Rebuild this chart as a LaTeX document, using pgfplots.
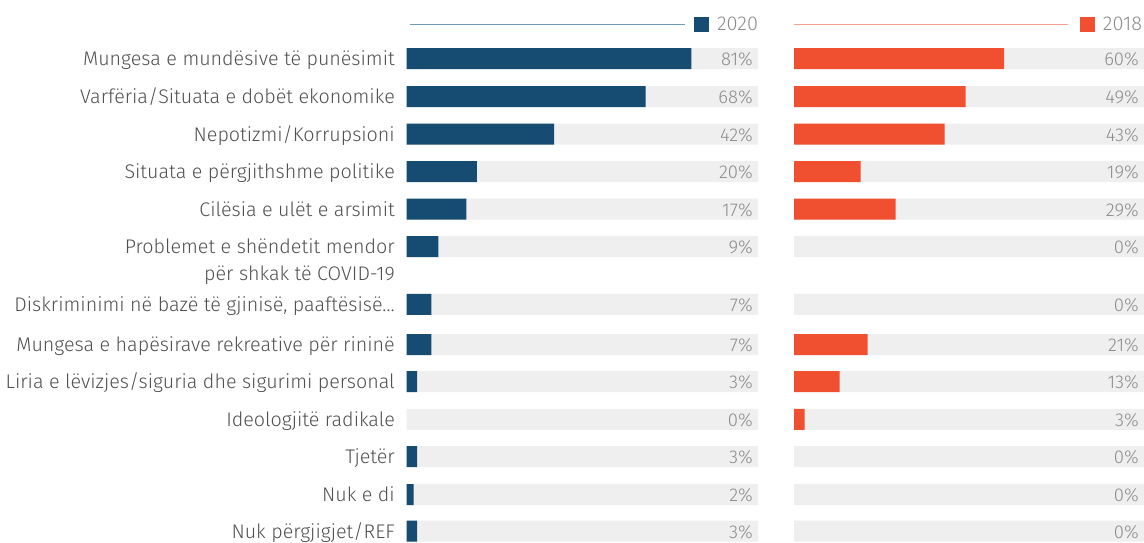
\documentclass[border=0pt]{standalone}
\usepackage{pgfplots}
\usepackage{pgfplotstable}
\pgfplotsset{compat=1.18}
\usepackage{fontspec}
\setmainfont{Fira Sans}[UprightFont=* Light]
\definecolor{cBlue}{HTML}{164B72}
\definecolor{cRed}{HTML}{F04F30}
\definecolor{cTrack}{HTML}{EFEFEF}
\definecolor{cLab}{HTML}{505050}
\definecolor{cPct}{HTML}{8C8C8C}
\definecolor{cLineB}{HTML}{6E9BB5}
\definecolor{cLineR}{HTML}{F7A08E}
\pgfplotstableread{
y     full v20 v18
58.5  100  81  60
96.5  100  68  49
134   100  42  43
171.5 100  20  19
209   100  17  29
246.5 100  9   0
304.3 100  7   0
344.5 100  7   21
381.5 100  3   13
419.3 100  0   3
456.5 100  3   0
494.5 100  2   0
531   100  3   0
}\data
\pgfplotsset{
  panel/.style={
    anchor=north west, scale only axis, height=543pt,
    xmin=0, xmax=100, ymin=0, ymax=543, y dir=reverse,
    xbar, bar width=21pt, bar shift=0pt,
    axis line style={draw=none}, tick style={draw=none}, major tick length=0pt,
    xtick=\empty, clip=false,
    /pgf/number format/assume math mode=true,
    legend style={draw=none, fill=none, inner sep=0pt, outer sep=0pt,
      font=\fontsize{20}{24}\selectfont, text=cPct,
      nodes={inner sep=0pt}},
    legend image code/.code={\path[##1] (0pt,-7.5pt) rectangle (15pt,7.5pt); \path (23pt,0pt);},
  },
  pct/.style={nodes near coords={\pgfmathprintnumber{\pgfplotspointmeta}\%},
    point meta=explicit,
    every node near coord/.append style={anchor=base east, xshift=-5pt, yshift=-7pt,
      inner sep=0pt, text=cPct, font=\fontsize{18.5}{22}\selectfont}},
  valbar/.style={x filter/.expression={x<=0 ? nan : x}, unbounded coords=discard},
}
\begin{document}
\begin{tikzpicture}
\path[use as bounding box] (0pt,-543pt) rectangle (1144pt,0pt);
\begin{axis}[panel, at={(406.7pt,0pt)}, width=351.3pt,
  ytick={58.5,96.5,134,171.5,209,246.5,273.5,304.3,344.5,381.5,419.3,456.5,494.5,531},
  yticklabels={Mungesa e mundësive të punësimit, Varfëria/Situata e dobët ekonomike,
    Nepotizmi/Korrupsioni, Situata e përgjithshme politike, Cilësia e ulët e arsimit,
    Problemet e shëndetit mendor, për shkak të COVID-19,
    {Diskriminimi në bazë të gjinisë, paaftësisë…},
    Mungesa e hapësirave rekreative për rininë,
    Liria e lëvizjes/siguria dhe sigurimi personal, Ideologjitë radikale,
    Tjetër, Nuk e di, Nuk përgjigjet/REF},
  yticklabel style={anchor=base east, inner sep=0pt, xshift=-11.7pt, yshift=-7pt,
    text=cLab, font=\fontsize{19.7}{24}\selectfont},
  legend style={at={(axis cs:100,24)}, anchor=east},
]
\addlegendimage{fill=cBlue, draw=none}
\addlegendentry{2020}
\addplot[fill=cTrack, draw=none, forget plot, pct] table[x=full, y=y, meta=v20]{\data};
\addplot[fill=cBlue, draw=none, forget plot, valbar] table[x=v20, y=y]{\data};
\draw[cLineB, line width=0.9pt] (axis cs:0.9,24) -- (axis cs:79.2,24);
\end{axis}
\begin{axis}[panel, at={(794pt,0pt)}, width=350pt, ytick=\empty,
  legend style={at={(axis cs:100,24)}, anchor=east, xshift=-2pt},
]
\addlegendimage{fill=cRed, draw=none}
\addlegendentry{2018}
\addplot[fill=cTrack, draw=none, forget plot, pct] table[x=full, y=y, meta=v18]{\data};
\addplot[fill=cRed, draw=none, forget plot, valbar] table[x=v18, y=y]{\data};
\draw[cLineR, line width=0.9pt] (axis cs:0,24) -- (axis cs:78.3,24);
\end{axis}
\end{tikzpicture}
\end{document}
